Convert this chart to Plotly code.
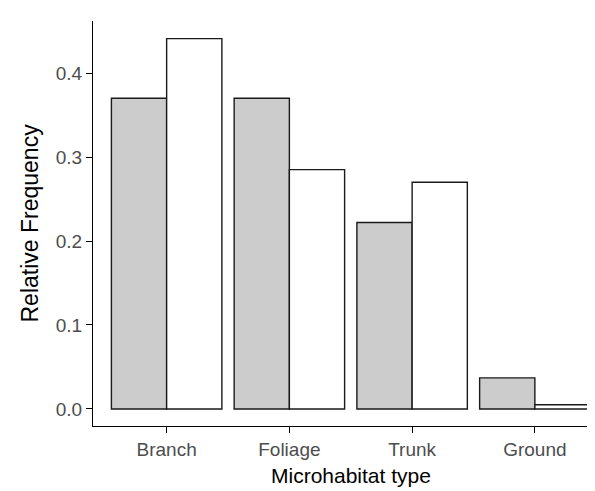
import plotly.graph_objects as go

categories = ["Branch", "Foliage", "Trunk", "Ground"]
series_grey = [0.370, 0.370, 0.222, 0.037]
series_white = [0.441, 0.285, 0.270, 0.005]
y_ticks = [0.0, 0.1, 0.2, 0.3, 0.4]
y_ticklabels = ["0.0", "0.1", "0.2", "0.3", "0.4"]

FONT = "Liberation Sans, Arial, sans-serif"

fig = go.Figure()
fig.add_trace(go.Bar(x=categories, y=series_grey, name="Group 1",
                     marker=dict(color="#cccccc", line=dict(color="#1a1a1a", width=1.4))))
fig.add_trace(go.Bar(x=categories, y=series_white, name="Group 2",
                     marker=dict(color="#ffffff", line=dict(color="#1a1a1a", width=1.4))))

# page body has an 8px margin, so the figure is drawn 8px smaller and offset
fig.update_layout(
    width=587, height=483,
    margin=dict(l=85, r=0, t=13, b=65),
    paper_bgcolor="white", plot_bgcolor="white",
    barmode="group", bargap=0.1, bargroupgap=0,
    showlegend=False,
    font=dict(family=FONT),
)
fig.update_xaxes(
    type="category", range=[-0.6, 3.49],
    showline=True, linecolor="black", linewidth=1.3,
    ticks="outside", ticklen=6, tickcolor="black", tickwidth=1.3,
    tickfont=dict(size=19, color="#4d4d4d", family=FONT),
    showgrid=False, zeroline=False,
)
fig.update_yaxes(
    range=[-0.0203, 0.462],
    tickvals=y_ticks, ticktext=y_ticklabels,
    showline=True, linecolor="black", linewidth=1.3,
    ticks="outside", ticklen=6, tickcolor="black", tickwidth=1.3,
    tickfont=dict(size=19, color="#4d4d4d", family=FONT),
    showgrid=False, zeroline=False,
)
fig.add_annotation(text="Microhabitat type", xref="x", x=1.5, yref="paper", y=0,
                   yshift=-49, xanchor="center", yanchor="middle", showarrow=False,
                   font=dict(size=21, color="black", family=FONT))
fig.add_annotation(text="Relative Frequency", xref="paper", x=0, xshift=-64,
                   yref="paper", y=0.5, xanchor="center", yanchor="middle",
                   textangle=-90, showarrow=False,
                   font=dict(size=23, color="black", family=FONT))

fig.write_html("out.html")
